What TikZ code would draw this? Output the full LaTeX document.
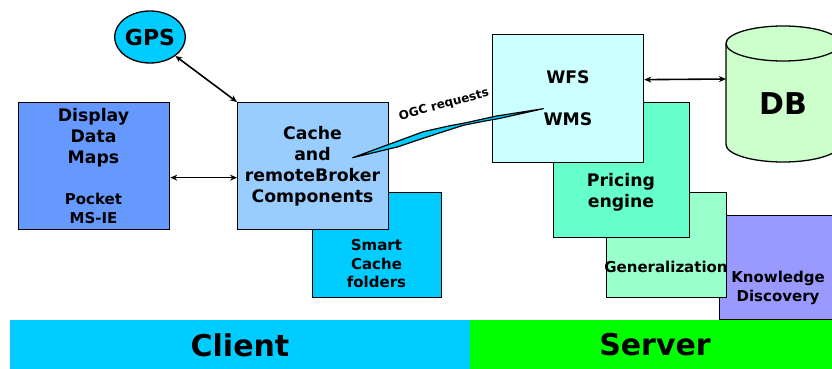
\documentclass[tikz,border=0pt]{standalone}
\usepackage{fontspec}
\setmainfont{DejaVu Sans}
\usetikzlibrary{arrows.meta,shapes.geometric}
\definecolor{cDisplay}{HTML}{6699FF}
\definecolor{cCache}{HTML}{99CCFF}
\definecolor{cSmart}{HTML}{00CCFF}
\definecolor{cWfs}{HTML}{CCFFFF}
\definecolor{cPricing}{HTML}{66FFCC}
\definecolor{cGeneral}{HTML}{99FFCC}
\definecolor{cKnow}{HTML}{9999FF}
\definecolor{cDB}{HTML}{CCFFCC}
\definecolor{cClient}{HTML}{00CCFF}
\definecolor{cServer}{HTML}{00FF00}
\tikzset{
  box/.style={draw=black, line width=1.3pt, anchor=north west, inner sep=0pt},
  lbl/.style={font=\bfseries\fontsize{17.3}{21}\selectfont, align=center, inner sep=0pt},
  slbl/.style={font=\bfseries\fontsize{15}{18.5}\selectfont, align=center, inner sep=0pt},
  biglbl/.style={font=\bfseries\fontsize{30}{32}\selectfont, inner sep=0pt},
  biarrow/.style={{Stealth[length=7pt,width=6pt]}-{Stealth[length=7pt,width=6pt]}, line width=1.6pt},
}
\begin{document}
\begin{tikzpicture}[x=1pt,y=1pt]
\useasboundingbox (0,0) rectangle (832,-369);
\clip (0,0) rectangle (832,-369);
% bars
\fill[cClient] (10,-320) rectangle (470,-368.5);
\fill[cServer] (470,-320) rectangle (832,-368.5);
\node[biglbl] (client) at (240,-345) {Client};
\node[biglbl] (server) at (655,-345) {Server};
% client side
\node[box, fill=cDisplay, minimum width=151pt, minimum height=127pt] (display) at (18,-102) {};
\node[lbl] (displaytxt) at (93.5,-138) {Display\\Data\\Maps};
\node[slbl] (pockettxt) at (93.5,-208.5) {Pocket\\MS-IE};
\node[box, fill=cSmart, minimum width=129pt, minimum height=105pt] (smart) at (312,-192) {};
\node[slbl] (smarttxt) at (376.5,-264) {Smart\\Cache\\folders};
\node[box, fill=cCache, minimum width=151pt, minimum height=127pt] (cache) at (237,-102) {};
\node[lbl] (cachetxt) at (312.5,-166.5) {Cache\\and\\remoteBroker\\Components};
\node[ellipse, draw=black, line width=1.3pt, fill=cSmart, minimum width=67pt, minimum height=52pt, inner sep=0pt,
      font=\bfseries\fontsize{22}{24}\selectfont] (gps) at (150,-37) {GPS};
% server side
\node[box, fill=cKnow, minimum width=130pt, minimum height=104pt] (know) at (719,-215) {};
\node[slbl] (knowtxt) at (778,-288) {Knowledge\\Discovery};
\node[box, fill=cGeneral, minimum width=120pt, minimum height=105pt] (general) at (606,-192) {};
\node[slbl] (generaltxt) at (666,-267) {Generalization};
\node[box, fill=cPricing, minimum width=136pt, minimum height=135pt] (pricing) at (553,-102) {};
\node[lbl] (pricingtxt) at (621,-192) {Pricing\\engine};
\node[box, fill=cWfs, minimum width=151pt, minimum height=128pt] (wfs) at (492,-34) {};
\node[lbl] (wfstxt) at (568,-77) {WFS};
\node[lbl] (wmstxt) at (568,-119) {WMS};
% DB cylinder
\filldraw[fill=cDB, draw=black, line width=1.3pt]
  (726,-43.5) -- (726,-144.5) arc (180:360:57 and 17.5) -- (840,-43.5) arc (0:180:57 and 17.5) -- cycle;
\draw[line width=1.3pt] (726,-43.5) arc (180:360:57 and 17.5);
\node[biglbl] (db) at (783,-104) {DB};
\coordinate (dbw) at (726,-79);
% connectors
\draw[biarrow] (gps) -- (cache.north west);
\draw[biarrow] ([yshift=-11.5pt]display.east) -- ([yshift=-11.5pt]cache.west);
\draw[biarrow] ([yshift=19pt]wfs.east) -- (dbw);
% OGC lightning
\coordinate (ogcA) at (352.7,-157.7);
\coordinate (ogcB) at (543.3,-108.7);
\filldraw[fill=cSmart, draw=black, line width=1.2pt, line join=round]
  (ogcA) -- (423.3,-131.7) -- (450,-125.7) -- (463.3,-123.3) -- (496.7,-116) -- (ogcB)
  -- (498.3,-118.7) -- (483.3,-121.3) -- (463.3,-125.3) -- (443.3,-131.7) -- (420,-139.3) -- (398.3,-146.7) -- cycle;
\node[font=\bfseries\fontsize{12}{14}\selectfont, rotate=15, inner sep=0pt] (ogc) at (444,-105) {OGC requests};
\end{tikzpicture}
\end{document}
